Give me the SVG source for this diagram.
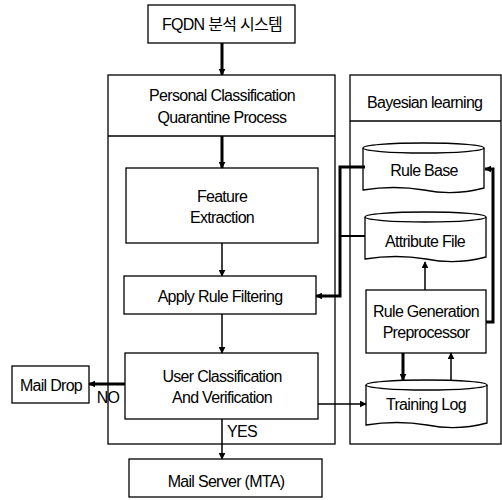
<svg xmlns="http://www.w3.org/2000/svg" width="502" height="500" viewBox="0 0 502 500">
  <style>
    .box { fill: #fff; stroke: #000; stroke-width: 1.3; }
    .frame { fill: none; stroke: #000; stroke-width: 1.3; }
    .lbl { font-family: "Liberation Sans", Arial, sans-serif; font-size: 16px; letter-spacing: -0.7px; fill: #000; text-anchor: middle; }
    .kr { font-family: "Liberation Sans", "Noto Sans CJK KR", sans-serif; font-size: 16px; letter-spacing: -0.7px; fill: #000; text-anchor: middle; }
    .thin { fill: none; stroke: #000; stroke-width: 1.5; }
    .thick { fill: none; stroke: #000; stroke-width: 3; }
  </style>
  <defs>
    <marker id="ah" viewBox="0 0 10 10" refX="9" refY="5" markerWidth="7" markerHeight="7" markerUnits="userSpaceOnUse" orient="auto">
      <path d="M0,0 L10,5 L0,10 z" fill="#000"/>
    </marker>
    <marker id="ahb" viewBox="0 0 10 10" refX="9" refY="5" markerWidth="4" markerHeight="4" orient="auto">
      <path d="M0,0 L10,5 L0,10 z" fill="#000"/>
    </marker>
  </defs>

  <!-- Containers -->
  <g id="quarantine">
    <rect class="frame" x="108" y="75" width="227" height="369"/>
    <line class="frame" x1="108" y1="136" x2="335" y2="136"/>
    <text class="lbl" x="222" y="101">Personal Classification</text>
    <text class="lbl" x="222" y="123">Quarantine Process</text>
  </g>
  <g id="bayesian">
    <rect class="frame" x="350" y="75" width="151" height="369"/>
    <line class="frame" x1="350" y1="121" x2="501" y2="121"/>
    <text class="lbl" x="367" y="108" style="text-anchor:start">Bayesian learning</text>
  </g>

  <!-- Nodes -->
  <g id="fqdn">
    <rect class="box" x="148" y="5" width="147" height="38"/>
    <text class="kr" x="222" y="30">FQDN 분석 시스템</text>
  </g>
  <g id="feature">
    <rect class="box" x="126" y="168" width="192" height="75"/>
    <text class="lbl" x="222" y="202">Feature</text>
    <text class="lbl" x="222" y="223">Extraction</text>
  </g>
  <g id="filter">
    <rect class="box" x="124" y="276" width="192" height="38"/>
    <text class="lbl" x="220" y="302">Apply Rule Filtering</text>
  </g>
  <g id="classify">
    <rect class="box" x="125" y="353" width="193" height="66"/>
    <text class="lbl" x="222" y="382">User Classification</text>
    <text class="lbl" x="222" y="403">And Verification</text>
  </g>
  <g id="maildrop">
    <rect class="box" x="12" y="366" width="77" height="37"/>
    <text class="lbl" x="51" y="391">Mail Drop</text>
  </g>
  <g id="mta">
    <rect class="box" x="129" y="459" width="193" height="38"/>
    <text class="lbl" x="226" y="487">Mail Server (MTA)</text>
  </g>
  <g id="rulebase">
    <path class="box" d="M363,148 A60.5,5 0 0 1 484,148 V188 Q454,196 424,190 Q394,185 363,190 Z"/>
    <path class="frame" d="M363,148 A60.5,5 0 0 0 484,148"/>
    <text class="lbl" x="424" y="176">Rule Base</text>
  </g>
  <g id="attribute">
    <path class="box" d="M365,217 A60.5,5 0 0 1 486,217 V257 Q456,265 426,259 Q396,254 365,259 Z"/>
    <path class="frame" d="M365,217 A60.5,5 0 0 0 486,217"/>
    <text class="lbl" x="425" y="247">Attribute File</text>
  </g>
  <g id="rulegen">
    <rect class="box" x="366" y="290" width="120" height="63"/>
    <text class="lbl" x="426" y="317">Rule Generation</text>
    <text class="lbl" x="426" y="338">Preprocessor</text>
  </g>
  <g id="traininglog">
    <path class="box" d="M366,385 A60.5,5 0 0 1 487,385 V423 Q457,431 427,425 Q397,420 366,425 Z"/>
    <path class="frame" d="M366,385 A60.5,5 0 0 0 487,385"/>
    <text class="lbl" x="426" y="410">Training Log</text>
  </g>

  <!-- Connectors -->
  <g id="connectors">
    <line class="thick" x1="222" y1="43" x2="222" y2="75" marker-end="url(#ah)"/>
    <line class="thick" x1="222" y1="136" x2="222" y2="168" marker-end="url(#ah)"/>
    <line class="thin" x1="222" y1="243" x2="222" y2="276" marker-end="url(#ah)"/>
    <line class="thin" x1="222" y1="314" x2="222" y2="353" marker-end="url(#ah)"/>
    <line class="thin" x1="222" y1="419" x2="222" y2="459" marker-end="url(#ah)"/>
    <line class="thick" x1="125" y1="384" x2="89" y2="384" marker-end="url(#ah)"/>
    <line class="thin" x1="318" y1="404" x2="366" y2="404" marker-end="url(#ah)"/>
    <path class="thick" d="M365,167 H340 V296 H316" marker-end="url(#ah)"/>
    <line class="thin" x1="340" y1="236" x2="365" y2="236" style="stroke-width:2"/>
    <line class="thin" x1="425" y1="290" x2="425" y2="262" marker-end="url(#ah)"/>
    <line class="thick" x1="403" y1="353" x2="403" y2="380" marker-end="url(#ah)"/>
    <line class="thin" x1="451" y1="380" x2="451" y2="353" marker-end="url(#ah)"/>
    <path class="thick" d="M486,322 H493 V169 H485" marker-end="url(#ah)"/>
    <text class="lbl" x="108" y="403">NO</text>
    <text class="lbl" x="242" y="437">YES</text>
  </g>
</svg>
